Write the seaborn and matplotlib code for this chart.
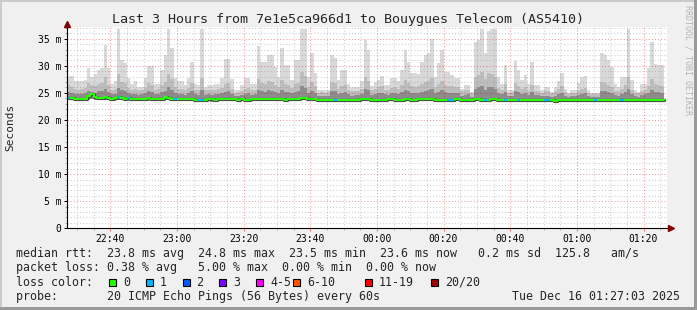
import numpy as np
import pandas as pd
import matplotlib
matplotlib.use("Agg")
import matplotlib.pyplot as plt
import seaborn as sns
from matplotlib.patches import Rectangle
from matplotlib.ticker import FixedLocator, MultipleLocator

# ---------------- data (minutes after 22:00, one sample per minute) ----------------
start_minute = 27

rtt_max = [
    28.1, 28.1, 27.2, 27.2, 27.2, 27.4, 29.5, 28.0, 28.5, 29.2,
    29.5, 33.8, 29.5, 26.7, 27.1, 36.8, 31.0, 30.5, 27.7, 26.7,
    27.1, 26.1, 26.1, 27.7, 29.9, 29.9, 26.7, 26.7, 29.3, 32.0,
    36.8, 33.2, 27.7, 27.1, 27.1, 26.4, 27.7, 30.7, 26.7, 26.4,
    36.8, 26.1, 26.4, 26.4, 26.7, 26.7, 27.7, 31.2, 31.2, 27.5,
    25.5, 25.5, 26.4, 27.7, 27.7, 26.7, 26.7, 33.7, 30.7, 30.7,
    32.0, 32.0, 29.8, 28.0, 33.2, 30.1, 30.1, 27.4, 31.0, 31.0,
    36.8, 36.8, 28.0, 32.4, 28.6, 25.5, 25.5, 25.5, 25.5, 32.0,
    31.5, 27.4, 29.2, 29.2, 26.7, 26.1, 26.1, 26.1, 27.1, 34.7,
    32.9, 26.3, 27.0, 27.4, 28.1, 26.4, 26.4, 27.8, 27.8, 27.1,
    29.2, 32.9, 30.7, 28.6, 28.6, 28.5, 30.7, 31.9, 32.3, 34.9,
    28.0, 30.5, 33.0, 28.9, 28.9, 28.3, 27.8, 27.8, 25.8, 26.4,
    26.4, 25.2, 34.4, 34.7, 36.7, 32.3, 36.5, 36.7, 36.7, 28.0,
    26.7, 30.1, 25.5, 25.5, 30.9, 29.2, 27.4, 28.3, 26.7, 30.7,
    26.4, 26.4, 25.5, 26.0, 26.0, 25.2, 26.0, 27.1, 28.7, 25.8,
    24.9, 25.5, 25.5, 26.9, 28.0, 28.1, 25.5, 24.9, 25.0, 25.0,
    32.3, 32.0, 31.0, 29.8, 26.7, 26.1, 28.0, 28.0, 36.7, 27.4,
    25.5, 25.2, 26.7, 26.7, 29.5, 34.4, 30.4, 30.1, 30.1,
]

rtt_upper = [
    26.4, 26.0, 25.8, 25.6, 25.8, 25.9, 26.8, 26.5, 26.2, 26.6,
    26.9, 28.0, 26.5, 25.6, 25.8, 28.5, 27.0, 26.8, 25.9, 25.6,
    25.7, 25.5, 25.6, 25.9, 26.8, 26.5, 25.6, 25.7, 26.4, 27.0,
    28.5, 27.5, 26.0, 25.8, 25.7, 25.5, 25.9, 26.8, 25.6, 25.5,
    27.8, 25.5, 25.6, 25.5, 25.6, 25.7, 25.9, 26.6, 26.9, 25.8,
    25.0, 25.1, 25.4, 25.8, 25.9, 25.5, 25.6, 27.5, 26.8, 26.6,
    27.2, 27.0, 26.5, 26.0, 27.4, 26.6, 26.5, 25.9, 26.7, 26.9,
    28.8, 28.2, 26.0, 27.0, 26.2, 25.0, 25.1, 25.0, 25.2, 27.0,
    26.8, 25.8, 26.3, 26.5, 25.6, 25.3, 25.4, 25.4, 25.8, 28.0,
    27.2, 25.5, 25.8, 26.0, 26.2, 25.6, 25.5, 25.9, 26.0, 25.7,
    26.4, 27.3, 26.8, 26.2, 26.1, 26.2, 26.7, 27.0, 27.1, 27.8,
    26.0, 26.6, 27.2, 26.4, 26.3, 26.2, 26.0, 26.0, 25.3, 25.5,
    25.6, 24.9, 28.0, 28.3, 28.8, 27.5, 28.6, 28.4, 28.0, 25.9,
    25.6, 26.6, 25.0, 25.1, 26.8, 26.3, 25.7, 26.1, 25.4, 26.5,
    25.4, 25.4, 25.0, 25.3, 25.3, 24.9, 25.3, 25.7, 26.2, 25.1,
    24.7, 25.0, 25.0, 25.4, 25.8, 25.9, 25.0, 24.7, 24.8, 24.8,
    27.0, 26.8, 26.4, 26.0, 25.4, 25.3, 25.8, 26.5, 28.0, 25.6,
    25.0, 24.9, 25.4, 25.5, 26.2, 27.5, 26.6, 26.4, 26.3,
]

rtt_inner = [
    25.2, 25.0, 24.8, 24.7, 24.8, 24.9, 25.3, 25.2, 25.0, 25.3,
    25.4, 25.8, 25.2, 24.7, 24.8, 25.9, 25.5, 25.4, 24.9, 24.7,
    24.8, 24.6, 24.7, 24.9, 25.3, 25.2, 24.7, 24.8, 25.1, 25.4,
    26.0, 25.6, 24.9, 24.8, 24.8, 24.6, 24.9, 25.3, 24.7, 24.6,
    25.6, 24.6, 24.7, 24.6, 24.7, 24.7, 24.9, 25.2, 25.4, 24.8,
    24.4, 24.5, 24.6, 24.8, 24.9, 24.6, 24.7, 25.5, 25.3, 25.2,
    25.5, 25.4, 25.2, 24.9, 25.6, 25.2, 25.1, 24.9, 25.2, 25.4,
    26.2, 25.9, 24.9, 25.4, 25.0, 24.4, 24.5, 24.4, 24.5, 25.4,
    25.3, 24.8, 25.0, 25.1, 24.7, 24.5, 24.6, 24.6, 24.8, 25.8,
    25.5, 24.6, 24.8, 24.9, 25.0, 24.7, 24.6, 24.9, 24.9, 24.8,
    25.1, 25.5, 25.3, 25.0, 25.0, 25.0, 25.2, 25.4, 25.5, 25.8,
    24.9, 25.2, 25.5, 25.1, 25.0, 25.0, 24.9, 24.9, 24.5, 24.6,
    24.7, 24.3, 25.8, 26.0, 26.2, 25.6, 26.1, 26.0, 25.8, 24.9,
    24.7, 25.2, 24.4, 24.5, 25.3, 25.1, 24.8, 25.0, 24.6, 25.1,
    24.6, 24.6, 24.4, 24.5, 24.5, 24.3, 24.5, 24.8, 25.0, 24.5,
    24.2, 24.4, 24.4, 24.6, 24.8, 24.9, 24.4, 24.2, 24.3, 24.3,
    25.4, 25.3, 25.1, 24.9, 24.6, 24.5, 24.8, 25.1, 25.8, 24.7,
    24.4, 24.3, 24.6, 24.7, 25.0, 25.6, 25.2, 25.1, 25.0,
]

rtt_median = [
    24.0, 24.0, 23.9, 23.9, 23.9, 23.9, 24.4, 24.8, 24.2, 24.0,
    24.1, 24.2, 24.0, 23.9, 24.0, 24.2, 24.1, 23.9, 24.1, 23.9,
    23.9, 23.8, 23.9, 23.9, 24.0, 23.9, 23.8, 23.8, 23.9, 24.2,
    24.0, 23.9, 23.8, 23.8, 23.9, 23.8, 23.8, 23.9, 23.6, 23.6,
    23.7, 23.7, 23.8, 23.8, 23.7, 23.8, 23.8, 23.9, 23.8, 23.8,
    23.8, 23.7, 23.8, 23.7, 23.7, 23.8, 23.8, 23.8, 23.8, 23.8,
    23.8, 23.9, 23.8, 23.8, 23.8, 23.7, 23.8, 23.8, 23.8, 23.9,
    24.1, 24.0, 23.8, 23.8, 23.8, 23.7, 23.7, 23.7, 23.7, 23.7,
    23.7, 23.7, 23.7, 23.7, 23.7, 23.7, 23.7, 23.7, 23.8, 23.9,
    23.8, 23.7, 23.7, 23.7, 23.7, 23.7, 23.8, 23.8, 23.7, 23.7,
    23.7, 23.8, 23.8, 23.7, 23.7, 23.8, 23.8, 23.8, 23.8, 23.8,
    23.7, 23.7, 23.7, 23.7, 23.7, 23.7, 23.8, 23.9, 23.7, 23.7,
    23.7, 23.7, 23.8, 23.8, 23.7, 23.7, 23.7, 23.8, 23.8, 23.7,
    23.7, 23.7, 23.6, 23.6, 23.7, 23.7, 23.7, 23.7, 23.7, 23.7,
    23.7, 23.7, 23.6, 23.7, 23.7, 23.6, 23.5, 23.6, 23.7, 23.6,
    23.6, 23.6, 23.7, 23.7, 23.7, 23.7, 23.7, 23.6, 23.6, 23.6,
    23.7, 23.7, 23.7, 23.7, 23.6, 23.6, 23.6, 23.7, 23.7, 23.6,
    23.6, 23.6, 23.6, 23.7, 23.7, 23.7, 23.6, 23.6, 23.6,
]

rtt_min = [
    23.6, 23.6, 23.6, 23.6, 23.6, 23.6, 23.7, 23.8, 23.7, 23.6,
    23.6, 23.7, 23.6, 23.6, 23.6, 23.7, 23.6, 23.6, 23.6, 23.5,
    23.5, 23.5, 23.5, 23.5, 23.6, 23.5, 23.5, 23.5, 23.5, 23.7,
    23.6, 23.5, 23.5, 23.5, 23.5, 23.5, 23.5, 23.5, 23.3, 23.3,
    23.4, 23.4, 23.5, 23.4, 23.4, 23.5, 23.5, 23.5, 23.5, 23.5,
    23.5, 23.4, 23.5, 23.4, 23.4, 23.5, 23.5, 23.5, 23.5, 23.5,
    23.5, 23.5, 23.5, 23.5, 23.5, 23.4, 23.5, 23.5, 23.5, 23.5,
    23.6, 23.6, 23.5, 23.5, 23.5, 23.4, 23.4, 23.4, 23.4, 23.4,
    23.4, 23.4, 23.4, 23.4, 23.4, 23.4, 23.4, 23.4, 23.5, 23.5,
    23.5, 23.4, 23.4, 23.4, 23.4, 23.4, 23.5, 23.5, 23.4, 23.4,
    23.4, 23.5, 23.5, 23.4, 23.4, 23.5, 23.5, 23.5, 23.5, 23.5,
    23.4, 23.4, 23.4, 23.4, 23.4, 23.4, 23.5, 23.5, 23.4, 23.4,
    23.4, 23.4, 23.5, 23.5, 23.4, 23.4, 23.4, 23.5, 23.5, 23.4,
    23.4, 23.4, 23.3, 23.3, 23.4, 23.4, 23.4, 23.4, 23.4, 23.4,
    23.4, 23.4, 23.3, 23.4, 23.4, 23.3, 23.2, 23.3, 23.4, 23.3,
    23.3, 23.3, 23.4, 23.4, 23.4, 23.4, 23.4, 23.3, 23.3, 23.3,
    23.4, 23.4, 23.4, 23.4, 23.3, 23.3, 23.3, 23.4, 23.4, 23.3,
    23.3, 23.3, 23.3, 23.4, 23.4, 23.4, 23.3, 23.3, 23.3,
]

# samples (index) with lost pings and how many were lost
loss_samples = [0, 15, 18, 32, 39, 40, 80, 114, 115, 125, 131, 135, 143, 144, 158, 166]
loss_counts = [1, 1, 1, 1, 1, 1, 1, 1, 1, 1, 1, 1, 1, 1, 1, 1]

x_tick_minutes = [40, 60, 80, 100, 120, 140, 160, 180, 200]
x_tick_labels = ["22:40", "23:00", "23:20", "23:40", "00:00", "00:20", "00:40", "01:00", "01:20"]
y_ticks = [0, 5, 10, 15, 20, 25, 30, 35]
y_tick_labels = ["0", "5 m", "10 m", "15 m", "20 m", "25 m", "30 m", "35 m"]

loss_labels = ["0", "1", "2", "3", "4-5", "6-10", "11-19", "20/20"]
loss_colors = ["#26ff00", "#00b8ff", "#0059ff", "#7e00ff", "#ff00ff", "#ff5500", "#ff0000", "#a00000"]

title = "Last 3 Hours from 7e1e5ca966d1 to Bouygues Telecom (AS5410)"
legend_rtt = "median rtt:  23.8 ms avg  24.8 ms max  23.5 ms min  23.6 ms now   0.2 ms sd  125.8   am/s"
legend_loss = "packet loss: 0.38 % avg   5.00 % max  0.00 % min  0.00 % now"
probe_text = "probe:       20 ICMP Echo Pings (56 Bytes) every 60s"
date_text = "Tue Dec 16 01:27:03 2025"

# ---------------- drawing ----------------
sns.set_theme(style="white")
MONO = ["DejaVu Sans Mono"]
plt.rcParams["font.family"] = MONO

W, H = 697, 310
fig = plt.figure(figsize=(W / 100, H / 100), dpi=100, facecolor="#f0f0f0")

def fx(px):
    return px / W

def fy(py):
    return 1 - py / H

ax_left, ax_right, ax_top, ax_bottom = 67, 667, 27.3, 228.3
ax = fig.add_axes([fx(ax_left), fy(ax_bottom), (ax_right - ax_left) / W, (ax_bottom - ax_top) / H])
ax.set_facecolor("white")

n = len(rtt_max)
edges = start_minute + np.arange(n + 1)

def ext(a):
    a = np.asarray(a, dtype=float)
    return np.append(a, a[-1])

smoke_layers = [(rtt_max, "#d9d9d9"), (rtt_upper, "#bdbdbd"), (rtt_inner, "#8c8c8c")]
for hi, col in smoke_layers:
    ax.fill_between(edges, ext(rtt_min), ext(hi), step="post", color=col, lw=0, zorder=1)

med_df = pd.DataFrame({"minute": edges, "median": ext(rtt_median)})
sns.lineplot(data=med_df, x="minute", y="median", drawstyle="steps-post",
             color="#4a4a4a", lw=2.3, zorder=3, ax=ax)
sns.lineplot(data=med_df, x="minute", y="median", drawstyle="steps-post",
             color=loss_colors[0], lw=1.5, zorder=4, ax=ax)
for idx, cnt in zip(loss_samples, loss_counts):
    ax.hlines(rtt_median[idx], edges[idx], edges[idx + 1], color=loss_colors[cnt], lw=1.5, zorder=5)

ax.set_xlim(27.05, 207.05)
ax.set_ylim(0, 37.1)
ax.set_xlabel("")
ax.set_ylabel("")
ax.xaxis.set_major_locator(FixedLocator(x_tick_minutes))
ax.set_xticklabels(x_tick_labels)
ax.xaxis.set_minor_locator(MultipleLocator(5))
ax.yaxis.set_major_locator(FixedLocator(y_ticks))
ax.set_yticklabels(y_tick_labels)
ax.yaxis.set_minor_locator(MultipleLocator(1))

ax.set_axisbelow(False)
ax.grid(which="major", color="#de1a1a", alpha=0.45, ls=(0, (1, 2)), lw=0.75)
ax.grid(which="minor", color="#8f8f8f", alpha=0.45, ls=(0, (1, 2)), lw=0.75)

for s in ax.spines.values():
    s.set_visible(False)
ax.tick_params(axis="both", which="major", labelsize=7, length=2, width=0.7, pad=2, colors="#000000",
               direction="out", left=True, bottom=True)
ax.tick_params(axis="both", which="minor", length=1.5, width=0.6, colors="#9a9a9a",
               direction="out", left=True, bottom=True)
ax.tick_params(axis="x", which="major", colors="#e07070", labelcolor="black")

# axes with arrows
ax.plot([0, 0], [0, 1.012], transform=ax.transAxes, color="black", lw=0.8, clip_on=False, zorder=6)
ax.plot([0, 1.002], [0, 0], transform=ax.transAxes, color="black", lw=0.8, clip_on=False, zorder=6)
ax.plot([0], [1.018], marker="^", ms=4.5, color="#7f0000", mec="#7f0000",
        transform=ax.transAxes, clip_on=False, zorder=7)
ax.plot([1.006], [0], marker=">", ms=4.5, color="#7f0000", mec="#7f0000",
        transform=ax.transAxes, clip_on=False, zorder=7)

# texts
fig.text(0.5, fy(19), title, ha="center", va="center", fontsize=9.6, family=MONO)
fig.text(fx(10), fy(127.5), "Seconds", rotation=90, ha="center", va="center", fontsize=8, family=MONO)
fig.text(fx(688), fy(5), "RRDTOOL / TOBI OETIKER", rotation=270, ha="center", va="top",
         fontsize=6, color="#b4b4b4", family=MONO)

fig.text(fx(16), fy(254), legend_rtt, ha="left", va="center", fontsize=8.4, family=MONO)
fig.text(fx(16), fy(268), legend_loss, ha="left", va="center", fontsize=8.4, family=MONO)
fig.text(fx(16), fy(282.3), "loss color:", ha="left", va="center", fontsize=8.4, family=MONO)
box_x = [109, 146, 182.5, 219, 256, 293, 365, 431]
for bx, lab, col in zip(box_x, loss_labels, loss_colors):
    fig.add_artist(Rectangle((fx(bx), fy(286)), 7 / W, 7.5 / H, transform=fig.transFigure,
                             facecolor=col, edgecolor="black", lw=0.8))
    fig.text(fx(bx + 14), fy(282.3), lab, ha="left", va="center", fontsize=8.4, family=MONO)
fig.text(fx(16), fy(296.5), probe_text, ha="left", va="center", fontsize=8.4, family=MONO)
fig.text(fx(680), fy(296.5), date_text, ha="right", va="center", fontsize=8.4, family=MONO)

# 3D frame
fig.add_artist(Rectangle((0, 0), 2 / W, 1, transform=fig.transFigure, color="#cbcbcb", lw=0))
fig.add_artist(Rectangle((0, 1 - 2 / H), 1, 2 / H, transform=fig.transFigure, color="#cbcbcb", lw=0))
fig.add_artist(Rectangle((1 - 3 / W, 0), 3 / W, 1, transform=fig.transFigure, color="#999999", lw=0))
fig.add_artist(Rectangle((0, 0), 1, 3 / H, transform=fig.transFigure, color="#999999", lw=0))

fig.savefig("out.png", dpi=100, facecolor=fig.get_facecolor())
